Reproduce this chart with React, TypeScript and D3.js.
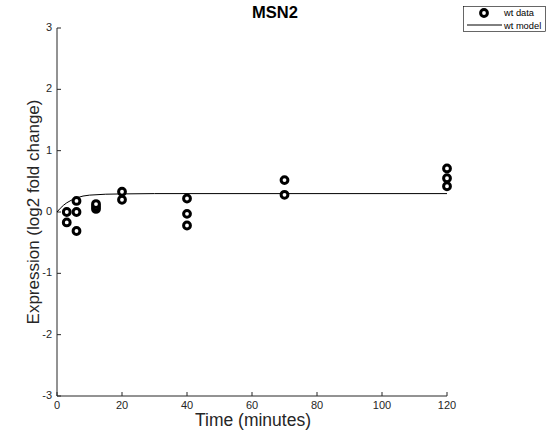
import React from "react";
import * as d3 from "d3";

const title = "MSN2";
const xTicks = [0, 20, 40, 60, 80, 100, 120];
const yTicks = [-3, -2, -1, 0, 1, 2, 3];

const dataTimes = [3, 3, 6, 6, 6, 12, 12, 12, 20, 20, 40, 40, 40, 70, 70, 120, 120, 120];
const dataValues = [0, -0.17, 0.18, 0, -0.31, 0.05, 0.09, 0.13, 0.33, 0.2, 0.22, -0.03, -0.22, 0.52, 0.28, 0.71, 0.55, 0.42];

const modelTimes = [0, 1, 2, 3, 4, 5, 6, 8, 10, 15, 20, 30, 40, 60, 80, 100, 120];
const modelValues = [0, 0.06, 0.11, 0.15, 0.18, 0.21, 0.23, 0.26, 0.275, 0.29, 0.295, 0.3, 0.3, 0.3, 0.3, 0.3, 0.3];

const legendLabels = ["wt data", "wt model"];

export default function App() {
  const W = 546, H = 433;
  const x = d3.scaleLinear().domain([0, 120]).range([57, 447]);
  const y = d3.scaleLinear().domain([-3, 3]).range([396, 28]);
  const line = d3.line<number>().x((_, i) => x(modelTimes[i])).y((d) => y(d));
  const font = "'Liberation Sans', Arial, sans-serif";
  const tc = "#262626";
  return (
    <svg width={W} height={H} style={{ position: "absolute", left: 0, top: 0, background: "#fff" }} fontFamily={font}>
      <rect width={W} height={H} fill="#fff" />
      <text x={275} y={18} textAnchor="middle" fontWeight="bold" fontSize={16.5} fill="#000">{title}</text>
      {/* axes */}
      <line x1={57} x2={57} y1={28} y2={396} stroke={tc} strokeWidth={1} />
      <line x1={57} x2={447} y1={396} y2={396} stroke={tc} strokeWidth={1} />
      {yTicks.map((t) => (
        <g key={"y" + t}>
          <line x1={57} x2={61} y1={y(t)} y2={y(t)} stroke={tc} />
          <text x={52} y={y(t) + 3} textAnchor="end" fontSize={11} fill={tc}>{t}</text>
        </g>
      ))}
      {xTicks.map((t) => (
        <g key={"x" + t}>
          <line x1={x(t)} x2={x(t)} y1={396} y2={392} stroke={tc} />
          <text x={x(t)} y={409} textAnchor="middle" fontSize={11} fill={tc}>{t}</text>
        </g>
      ))}
      <text x={253} y={426} textAnchor="middle" fontSize={17.5} fill={tc}>Time (minutes)</text>
      <text transform={`translate(39,212) rotate(-90)`} textAnchor="middle" fontSize={17} fill={tc}>Expression (log2 fold change)</text>
      <path d={line(modelValues) || ""} fill="none" stroke="#000" strokeWidth={1} />
      {dataValues.map((v, i) => (
        <circle key={i} cx={x(dataTimes[i])} cy={y(v)} r={3.4} fill="#fff" stroke="#000" strokeWidth={3} />
      ))}
      {/* legend */}
      <rect x={463.5} y={6.5} width={82} height={25} fill="#fff" stroke="#000" strokeWidth={0.6} />
      <circle cx={484} cy={13} r={3.4} fill="#fff" stroke="#000" strokeWidth={3} />
      <text x={504} y={16} fontSize={9.3} fill="#000">{legendLabels[0]}</text>
      <line x1={467} x2={502} y1={25} y2={25} stroke="#000" strokeWidth={1} />
      <text x={504} y={28.5} fontSize={9.3} fill="#000">{legendLabels[1]}</text>
    </svg>
  );
}
